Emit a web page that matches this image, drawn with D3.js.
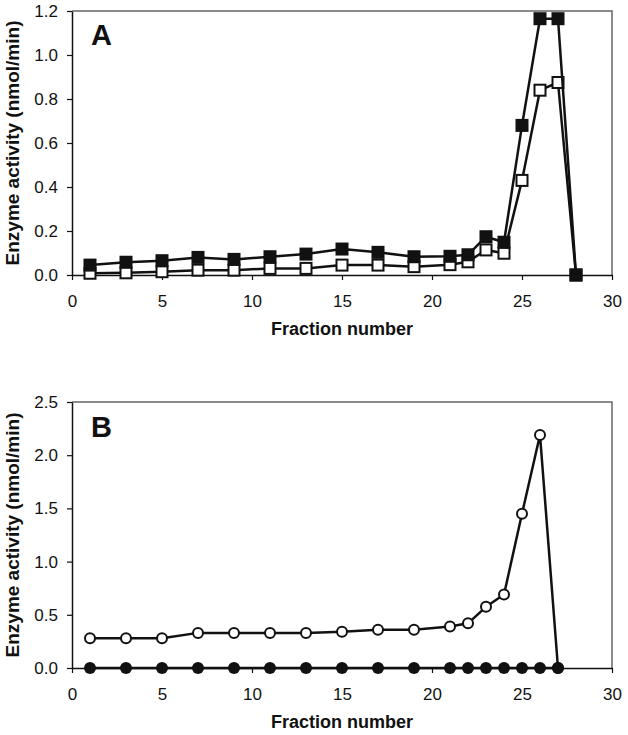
<!DOCTYPE html>
<html><head><meta charset="utf-8">
<script src="https://cdn.jsdelivr.net/npm/d3@7"></script>
<style>
body{margin:0;background:#fff;}
svg text{font-family:"Liberation Sans",Arial,sans-serif;}
</style></head>
<body><svg id="c" width="628" height="735"></svg>
<script>
// Panel A data
const fractionsA = [1,3,5,7,9,11,13,15,17,19,21,22,23,24,25,26,27,28];
const filledA = [0.045,0.058,0.065,0.08,0.071,0.083,0.095,0.118,0.103,0.083,0.085,0.092,0.174,0.149,0.68,1.165,1.165,0.0];
const openA   = [0.008,0.01,0.015,0.022,0.022,0.03,0.03,0.045,0.045,0.038,0.047,0.06,0.114,0.099,0.43,0.84,0.875,0.0];
// Panel B data
const fractionsB = [1,3,5,7,9,11,13,15,17,19,21,22,23,24,25,26,27];
const openB   = [0.28,0.28,0.28,0.33,0.33,0.33,0.33,0.34,0.36,0.36,0.39,0.42,0.575,0.69,1.45,2.19,0.0];
const filledB = [0,0,0,0,0,0,0,0,0,0,0,0,0,0,0,0,0];
const xTicks = [0,5,10,15,20,25,30];
const yTicksA = [0,0.2,0.4,0.6,0.8,1.0,1.2];
const yTicksB = [0,0.5,1.0,1.5,2.0,2.5];
const xLabel = "Fraction number";
const yLabel = "Enzyme activity (nmol/min)";

const svg = d3.select("#c");

function panel(opts){
  const {top, bottom, yMax, yTicks, letter, series} = opts;
  const left = 72, right = 612;
  const x = d3.scaleLinear().domain([0,30]).range([left,right]);
  const y = d3.scaleLinear().domain([0,yMax]).range([bottom,top]);
  const g = svg.append("g");
  g.append("path").attr("d",`M${left},${top}H${right}V${bottom}`)
    .attr("fill","none").attr("stroke","#666").attr("stroke-width",1.5);
  const xa = g.append("g").attr("transform",`translate(0,${bottom})`)
    .call(d3.axisBottom(x).tickValues(xTicks).tickSize(5).tickPadding(15).tickSizeOuter(0).tickFormat(d3.format("d")));
  const ya = g.append("g").attr("transform",`translate(${left},0)`)
    .call(d3.axisLeft(y).tickValues(yTicks).tickSize(5).tickPadding(9).tickSizeOuter(0).tickFormat(d3.format(".1f")));
  [xa,ya].forEach(a=>{
    a.select(".domain").attr("stroke","#111").attr("stroke-width",1.5);
    a.selectAll(".tick line").attr("stroke","#111").attr("stroke-width",1.2);
    a.selectAll(".tick text").attr("font-size",17).attr("fill","#111")
      .style("font-family","'Liberation Sans',Arial,sans-serif");
  });
  g.append("text").attr("x",(left+right)/2).attr("y",bottom+60)
    .attr("text-anchor","middle").attr("font-size",18).attr("font-weight","bold").attr("fill","#111").text(xLabel);
  g.append("text").attr("transform",`translate(19,${(top+bottom)/2}) rotate(-90)`)
    .attr("text-anchor","middle").attr("font-size",19).attr("font-weight","bold").attr("fill","#111").text(yLabel);
  g.append("text").attr("x",91).attr("y",top+(letter==="A"?34:35))
    .attr("font-size",29).attr("font-weight","bold").attr("fill","#111").text(letter);
  const line = d3.line().x(d=>x(d[0])).y(d=>y(d[1]));
  series.forEach(s=>{
    const pts = s.xs.map((f,i)=>[f,s.ys[i]]);
    g.append("path").datum(pts).attr("d",line).attr("fill","none")
      .attr("stroke","#111").attr("stroke-width",2.5).attr("stroke-linejoin","round");
    const m = g.append("g");
    if(s.shape==="square"){
      const sz = s.filled?13:11;
      m.selectAll("rect").data(pts).join("rect")
        .attr("x",d=>x(d[0])-sz/2).attr("y",d=>y(d[1])-sz/2).attr("width",sz).attr("height",sz)
        .attr("fill",s.filled?"#111":"#fff").attr("stroke","#111").attr("stroke-width",s.filled?0:2);
    } else {
      m.selectAll("circle").data(pts).join("circle")
        .attr("cx",d=>x(d[0])).attr("cy",d=>y(d[1])).attr("r",s.filled?6:5)
        .attr("fill",s.filled?"#111":"#fff").attr("stroke","#111").attr("stroke-width",s.filled?0:2);
    }
  });
}

panel({top:11,bottom:275,yMax:1.2,yTicks:yTicksA,letter:"A",series:[
  {xs:fractionsA,ys:openA,shape:"square",filled:false},
  {xs:fractionsA,ys:filledA,shape:"square",filled:true}
]});
panel({top:402,bottom:668,yMax:2.5,yTicks:yTicksB,letter:"B",series:[
  {xs:fractionsB,ys:openB,shape:"circle",filled:false},
  {xs:fractionsB,ys:filledB,shape:"circle",filled:true}
]});
</script></body></html>
